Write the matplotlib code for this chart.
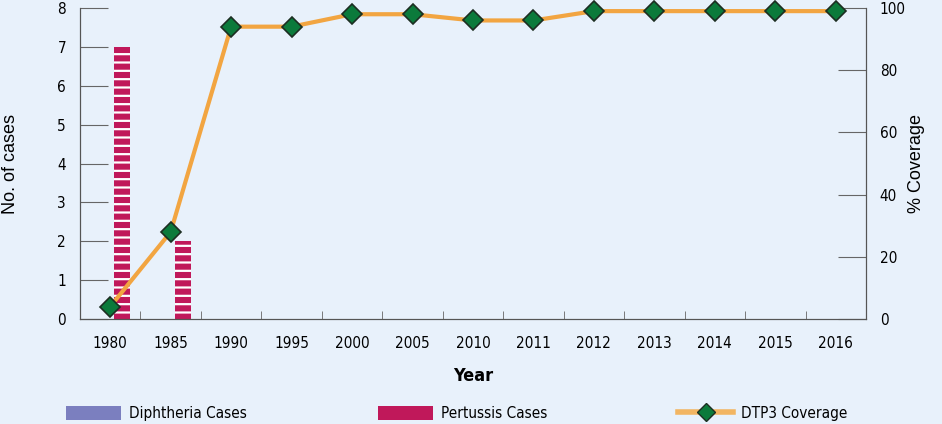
import numpy as np
import matplotlib
matplotlib.use("Agg")
import matplotlib.pyplot as plt
from matplotlib.patches import Patch
from matplotlib.lines import Line2D

years = ["1980", "1985", "1990", "1995", "2000", "2005", "2010", "2011",
         "2012", "2013", "2014", "2015", "2016"]
diphtheria = [0, 0, 0, 0, 0, 0, 0, 0, 0, 0, 0, 0, 0]
pertussis = [7, 2, 0, 0, 0, 0, 0, 0, 0, 0, 0, 0, 0]
dtp3 = [4, 28, 94, 94, 98, 98, 96, 96, 99, 99, 99, 99, 99]

bg = "#e8f1fb"
narrow = ["DejaVu Sans"]
plt.rcParams["hatch.linewidth"] = 1.6
plt.rcParams["font.stretch"] = "condensed"

fig = plt.figure(figsize=(9.42, 4.24), dpi=100, facecolor=bg)
ax = fig.add_axes([0.0849, 0.2476, 0.8344, 0.7335], facecolor=bg)

x = np.arange(len(years))
w = 0.27
ax.bar(x - 0.2, diphtheria, w, color="#7b7fbf", edgecolor="white", linewidth=0, hatch="--")
ax.bar(x + 0.2, pertussis, w, color="#c0185a", edgecolor="white", linewidth=0, hatch="--")

ax.set_xlim(-0.5, len(years) - 0.5)
ax.set_ylim(0, 8)
ax.set_xticks(x)
ax.set_xticklabels(years, fontfamily=narrow, fontsize=11, fontstretch="condensed")
ax.set_xticks(np.arange(0.5, len(years) - 1, 1), minor=True)
ax.tick_params(axis="x", which="major", length=0, pad=12)
ax.tick_params(axis="x", which="minor", length=6, direction="in", color="#666666")
ax.set_yticks(range(0, 9))
ax.tick_params(axis="y", direction="in", length=20, color="#666666", pad=10)
for lab in ax.get_yticklabels():
    lab.set_fontfamily(narrow)
    lab.set_fontsize(11)
    lab.set_fontstretch("condensed")
ax.set_ylabel("No. of cases", fontsize=13, fontfamily="Liberation Sans")
ax.yaxis.set_label_coords(-0.077, 0.5)
ax.set_xlabel("Year", fontsize=13, fontweight="bold", fontfamily=narrow,
              fontstretch="condensed", labelpad=12)
ax.spines["top"].set_visible(False)
for s in ["left", "right", "bottom"]:
    ax.spines[s].set_color("#555555")

ax2 = ax.twinx()
ax2.plot(x, dtp3, color="#f2a541", linewidth=3, marker="D", markersize=10,
         markerfacecolor="#0b7a3b", markeredgecolor="#1c2e22", markeredgewidth=1.2,
         clip_on=False, zorder=5)
ax2.set_ylim(0, 100)
ax2.set_yticks(range(0, 101, 20))
ax2.tick_params(axis="y", direction="in", length=20, color="#666666", pad=10)
for lab in ax2.get_yticklabels():
    lab.set_fontfamily(narrow)
    lab.set_fontsize(11)
    lab.set_fontstretch("condensed")
ax2.set_ylabel("% Coverage", fontsize=13, fontfamily="Liberation Sans")
ax2.yaxis.set_label_coords(1.053, 0.5)
ax2.spines["top"].set_visible(False)
for s in ["left", "right", "bottom"]:
    ax2.spines[s].set_color("#555555")

handles = [
    Patch(facecolor="#7b7fbf", edgecolor="none"),
    Patch(facecolor="#c0185a", edgecolor="none"),
    Line2D([], [], color="#f2b562", linewidth=4, marker="D", markersize=9,
           markerfacecolor="#0b7a3b", markeredgecolor="#1c2e22"),
]
labels = ["Diphtheria Cases", "Pertussis Cases", "DTP3 Coverage"]
fig.legend(handles, labels, loc="lower left", bbox_to_anchor=(0.0556, -0.026), ncol=3,
           frameon=False, handlelength=3.6, handleheight=1.0, handletextpad=0.5,
           columnspacing=8.6, prop={"family": narrow, "size": 11, "stretch": "condensed"})

fig.savefig("out.png", dpi=100, facecolor=bg)
